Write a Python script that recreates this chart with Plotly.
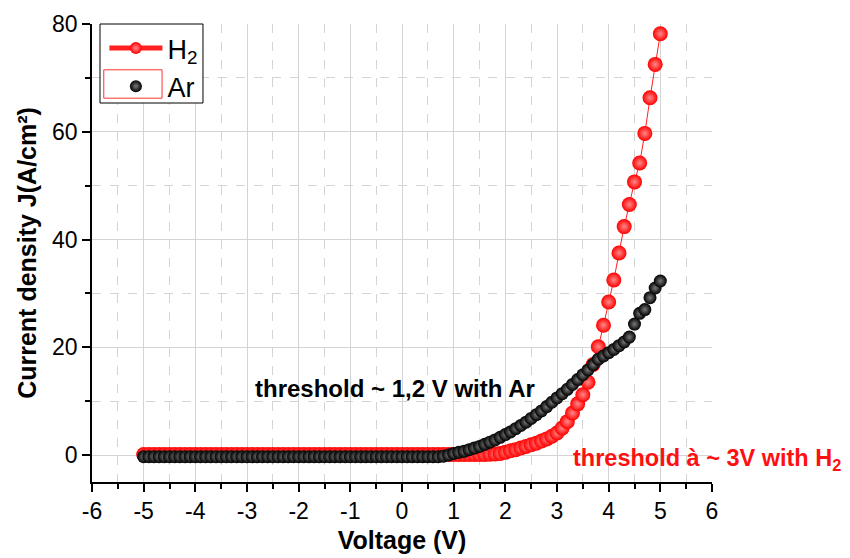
import plotly.graph_objects as go

# Voltage sampling grid (V), 0.1 V steps as in the measurement
voltage = [round(-5 + 0.1 * i, 1) for i in range(101)]

# H2 current density (A/cm^2)
h2_flat = [0.1] * 66  # -5.0 .. 1.5 V
h2_rise = [0.1, 0.15, 0.2, 0.3, 0.5, 0.8, 1.0, 1.3, 1.6, 1.9,
           2.2, 2.6, 3.0, 3.5, 4.1, 5.0, 6.2, 7.8, 9.5, 11.2,
           13.5, 16.8, 20.1, 24.1, 28.4, 32.5, 37.5, 42.4, 46.5, 50.7,
           54.2, 59.7, 66.3, 72.5, 78.2]  # 1.6 .. 5.0 V
j_h2 = h2_flat + h2_rise

# Ar current density (A/cm^2)
ar_flat = [-0.3] * 58  # -5.0 .. 0.7 V
ar_rise = [-0.2, 0.0, 0.3, 0.5, 0.7, 1.0, 1.3, 1.6, 2.0,
           2.4, 2.8, 3.3, 3.8, 4.3, 4.9, 5.5, 6.1, 6.8, 7.5,
           8.2, 9.0, 9.8, 10.6, 11.4, 12.2, 13.1, 14.0, 14.9, 15.8,
           16.8, 17.8, 18.4, 19.0, 19.6, 20.3, 21.0, 21.9, 24.3, 26.3,
           27.0, 29.2, 31.0, 32.3]  # 0.8 .. 5.0 V
j_ar = ar_flat + ar_rise

x_ticks = [-6, -5, -4, -3, -2, -1, 0, 1, 2, 3, 4, 5, 6]
x_labels = ["-6", "-5", "-4", "-3", "-2", "-1", "0", "1", "2", "3", "4", "5", "6"]
y_ticks = [0, 20, 40, 60, 80]
y_labels = ["0", "20", "40", "60", "80"]

FONT = "Liberation Sans, Arial, sans-serif"

fig = go.Figure()
fig.add_trace(go.Scatter(
    x=voltage, y=j_h2, name="H<sub>2</sub>", mode="lines+markers",
    line=dict(color="#ff2020", width=1),
    marker=dict(color="#ff0000", size=15, line=dict(width=0),
                gradient=dict(type="radial", color="#ff8a8a")),
))
fig.add_trace(go.Scatter(
    x=voltage, y=j_ar, name="Ar", mode="markers",
    marker=dict(color="#000000", size=13, line=dict(width=0),
                gradient=dict(type="radial", color="#7a7a7a")),
))

axis_common = dict(
    showline=True, linecolor="black", linewidth=1.5,
    ticks="outside", ticklen=8, tickwidth=1.5, tickcolor="black",
    showgrid=True, gridcolor="#d4d4d4", gridwidth=1,
    zeroline=False, mirror=False, automargin=False,
    tickfont=dict(family=FONT, size=23, color="black"),
)

fig.update_xaxes(
    **axis_common, range=[-6, 6], tickvals=x_ticks, ticktext=x_labels,
    minor=dict(dtick=0.5, ticks="outside", ticklen=5, tickwidth=1.5, tickcolor="black",
               showgrid=True, gridcolor="#d4d4d4", griddash="dash", gridwidth=1),
    title=dict(text="<b>Voltage (V)</b>", font=dict(family=FONT, size=25, color="black"),
               standoff=8),
)
fig.update_yaxes(
    **axis_common, range=[-5, 80], tickvals=y_ticks, ticktext=y_labels,
    minor=dict(dtick=10, ticks="outside", ticklen=5, tickwidth=1.5, tickcolor="black",
               showgrid=True, gridcolor="#d4d4d4", griddash="dash", gridwidth=1),
    title=dict(text="<b>Current density J(A/cm²)</b>", font=dict(family=FONT, size=25, color="black"),
               standoff=8),
)

fig.add_annotation(x=-2.88, y=12.3, xref="x", yref="y", showarrow=False,
                   xanchor="left", yanchor="middle",
                   text="<b>threshold ~ 1,2 V with Ar</b>",
                   font=dict(family=FONT, size=24, color="black"))
fig.add_annotation(x=3.28, y=-0.9, xref="x", yref="y", showarrow=False,
                   xanchor="left", yanchor="middle",
                   text="<b>threshold à ~ 3V with H<sub>2</sub></b>",
                   font=dict(family=FONT, size=23.5, color="#ff1010"))

# legend background/frame and the red frame around the Ar symbol
fig.add_shape(type="rect", xref="paper", yref="paper", layer="above",
              x0=0.0129, x1=0.179, y0=0.8275, y1=1.0,
              fillcolor="white", line=dict(color="black", width=1))
fig.add_shape(type="rect", xref="paper", yref="paper", layer="above",
              x0=0.019, x1=0.113, y0=0.838, y1=0.900,
              fillcolor="rgba(0,0,0,0)", line=dict(color="#ff3030", width=1))

fig.update_layout(
    width=842, height=550,
    margin=dict(l=84, r=138, t=16, b=76),
    paper_bgcolor="white", plot_bgcolor="white",
    showlegend=True,
    legend=dict(x=0.02, y=1.0, xanchor="left", yanchor="top",
                bgcolor="rgba(0,0,0,0)", borderwidth=0,
                font=dict(family=FONT, size=27, color="black"),
                itemsizing="constant", itemwidth=53, tracegroupgap=0),
)

fig.write_html("out.html")
